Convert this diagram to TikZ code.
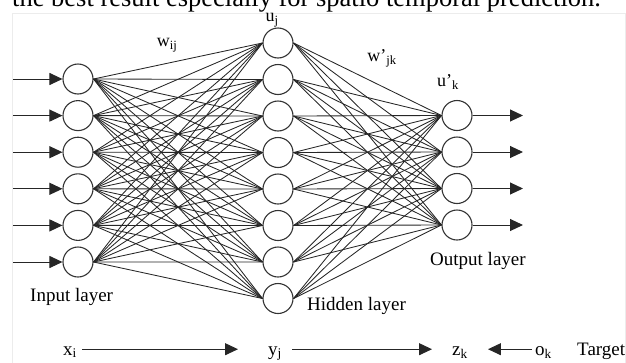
\documentclass[tikz,border=0pt]{standalone}
\usepackage{fontspec}
\setmainfont{Liberation Serif}
\usetikzlibrary{arrows.meta}
\begin{document}
\begin{tikzpicture}[x=1pt,y=-1pt,
 neuron/.style={circle,draw=black!80,line width=1.1pt,minimum size=30pt,inner sep=0pt},
 link/.style={draw=black!85,line width=0.85pt},
 io/.style={draw=black!85,line width=1pt,-{Triangle[length=13pt,width=12pt]}},
 lbl/.style={font=\fontsize{18}{20}\selectfont,inner sep=0pt},
 captxt/.style={font=\fontsize{19}{22}\selectfont,inner sep=0pt,anchor=base west}]
\useasboundingbox (0,0) rectangle (626,362);
\clip (0,0) rectangle (626,362);
\node[anchor=base west,inner sep=0pt,font=\fontsize{26.5}{30}\selectfont] (title) at (12,6) {the best result especially for spatio temporal prediction.};
\draw[gray!15,line width=0.6pt] (12,13) rectangle (625,380);
% neurons
\foreach \i in {1,...,6} {
  \node[neuron] (in\i) at (78,{79+(\i-1)*36.6}) {};
  \coordinate (src\i) at (13,{79+(\i-1)*36.6});
}
\foreach \j in {1,...,8}
  \node[neuron] (hid\j) at (278,{43+(\j-1)*36.5}) {};
\foreach \k in {1,...,4} {
  \node[neuron] (out\k) at (457,{115.5+(\k-1)*36.5}) {};
  \coordinate (dst\k) at (523,{115.5+(\k-1)*36.5});
}
% links
\foreach \i in {1,...,6}
  \foreach \j in {1,...,8}
    \draw[link] (in\i.east) -- (hid\j.west);
\foreach \j in {1,...,8}
  \foreach \k in {1,...,4}
    \draw[link] (hid\j.east) -- (out\k.west);
% io arrows
\foreach \i in {1,...,6}
  \draw[io] (src\i) -- (in\i.west);
\foreach \k in {1,...,4}
  \draw[io] (out\k.east) -- (dst\k);
% labels
\node[lbl] (uj) at (272,20) {u\textsubscript{j}};
\node[lbl] (wij) at (167,45) {w\textsubscript{ij}};
\node[lbl] (wjk) at (382,58) {w’\textsubscript{jk}};
\node[lbl] (uk) at (448,82) {u’\textsubscript{k}};
\node[captxt] (inl) at (30,301) {Input layer};
\node[captxt] (hidl) at (307,310) {Hidden layer};
\node[captxt] (outl) at (430,265) {Output layer};
% bottom row
\node[captxt] (xi) at (63,355) {x\textsubscript{i}};
\node[captxt] (yj) at (268,355) {y\textsubscript{j}};
\node[captxt] (zk) at (452,355) {z\textsubscript{k}};
\node[captxt] (ok) at (535,355) {o\textsubscript{k}};
\node[captxt] (tgt) at (577,355) {Target};
\draw[io,shorten <=5pt,shorten >=30pt] ([yshift=3.5pt]xi.mid east) -- ([yshift=3.5pt]yj.mid west);
\draw[io,shorten <=10pt,shorten >=20pt] ([yshift=3.5pt]yj.mid east) -- ([yshift=3.5pt]zk.mid west);
\draw[io,shorten <=3pt,shorten >=20pt] ([yshift=3.5pt]ok.mid west) -- ([yshift=3.5pt]zk.mid east);
\end{tikzpicture}
\end{document}
